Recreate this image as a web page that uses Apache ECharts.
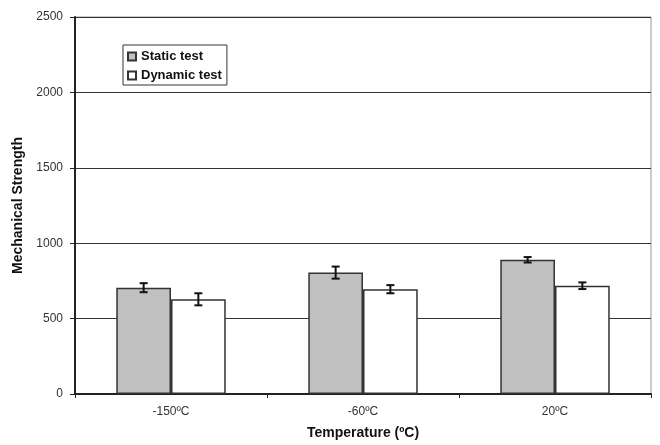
<!DOCTYPE html>
<html>
<head>
<meta charset="utf-8">
<script src="https://cdn.jsdelivr.net/npm/echarts@6/dist/echarts.min.js"></script>
<style>html,body{margin:0;padding:0;background:#fff;}#c{width:660px;height:445px;}</style>
</head>
<body>
<div id="c"></div>
<script>
var categories = ['-150ºC', '-60ºC', '20ºC'];
var staticValues = [705, 805, 890];
var staticErrors = [30, 40, 18];
var dynamicValues = [628, 695, 718];
var dynamicErrors = [40, 27, 22];
var yTicks = [0, 500, 1000, 1500, 2000, 2500];

var CAT_GAP = 0.43;
var chart = echarts.init(document.getElementById('c'));

function errorSeries(values, errors, side) {
  return {
    type: 'custom',
    name: side < 0 ? 'errS' : 'errD',
    z: 5,
    silent: true,
    data: values.map(function (v, i) { return [i, v - errors[i], v + errors[i]]; }),
    renderItem: function (params, api) {
      var i = api.value(0);
      var lo = api.coord([i, api.value(1)]);
      var hi = api.coord([i, api.value(2)]);
      var bw = api.size([1, 0])[0] * (1 - CAT_GAP) / 2;
      var x = lo[0] + side * bw / 2;
      var cap = 4;
      var style = { stroke: '#111', lineWidth: 2, fill: null };
      return {
        type: 'group',
        children: [
          { type: 'line', shape: { x1: x, y1: lo[1], x2: x, y2: hi[1] }, style: style },
          { type: 'line', shape: { x1: x - cap, y1: lo[1], x2: x + cap, y2: lo[1] }, style: style },
          { type: 'line', shape: { x1: x - cap, y1: hi[1], x2: x + cap, y2: hi[1] }, style: style }
        ]
      };
    }
  };
}

chart.setOption({
  animation: false,
  backgroundColor: '#fff',
  textStyle: { fontFamily: 'Liberation Sans, Arial, sans-serif' },
  grid: { left: 75, right: 9, top: 17, bottom: 49, show: true, borderColor: '#999', borderWidth: 1 },
  legend: {
    data: ['Static test', 'Dynamic test'],
    orient: 'vertical',
    left: 123,
    top: 45,
    itemWidth: 8,
    itemHeight: 8,
    itemGap: 6,
    padding: [5, 5, 3, 4],
    borderColor: '#333',
    borderWidth: 1,
    backgroundColor: '#fff',
    icon: 'rect',
    textStyle: { fontSize: 13, fontWeight: 'bold', color: '#111', fontFamily: 'Liberation Sans, Arial, sans-serif' }
  },
  xAxis: {
    type: 'category',
    data: categories,
    name: 'Temperature (ºC)',
    nameLocation: 'middle',
    nameGap: 32,
    nameTextStyle: { fontSize: 14, fontWeight: 'bold', color: '#111' },
    axisLine: { lineStyle: { color: '#222', width: 2 } },
    axisTick: { show: true, length: 4, lineStyle: { color: '#222' } },
    axisLabel: { fontSize: 12, color: '#333', margin: 12 },
    splitLine: { show: false }
  },
  yAxis: {
    type: 'value',
    min: 0,
    max: 2500,
    interval: 500,
    name: 'Mechanical Strength',
    nameLocation: 'middle',
    nameGap: 48,
    nameTextStyle: { fontSize: 14, fontWeight: 'bold', color: '#111' },
    axisLine: { show: true, lineStyle: { color: '#222', width: 2 } },
    axisTick: { show: true, length: 5, lineStyle: { color: '#222' } },
    axisLabel: {
      fontSize: 12, color: '#333', margin: 12,
      formatter: function (v) { return yTicks.indexOf(v) >= 0 ? String(v) : ''; }
    },
    splitLine: { show: true, lineStyle: { color: '#333', width: 1 } }
  },
  series: [
    {
      name: 'Static test',
      type: 'bar',
      data: staticValues,
      barGap: '0%',
      barCategoryGap: (CAT_GAP * 100) + '%',
      itemStyle: { color: '#c0c0c0', borderColor: '#333', borderWidth: 1.5 }
    },
    {
      name: 'Dynamic test',
      type: 'bar',
      data: dynamicValues,
      barGap: '0%',
      barCategoryGap: (CAT_GAP * 100) + '%',
      itemStyle: { color: '#ffffff', borderColor: '#333', borderWidth: 1.5 }
    },
    errorSeries(staticValues, staticErrors, -1),
    errorSeries(dynamicValues, dynamicErrors, 1)
  ]
});
</script>
</body>
</html>
